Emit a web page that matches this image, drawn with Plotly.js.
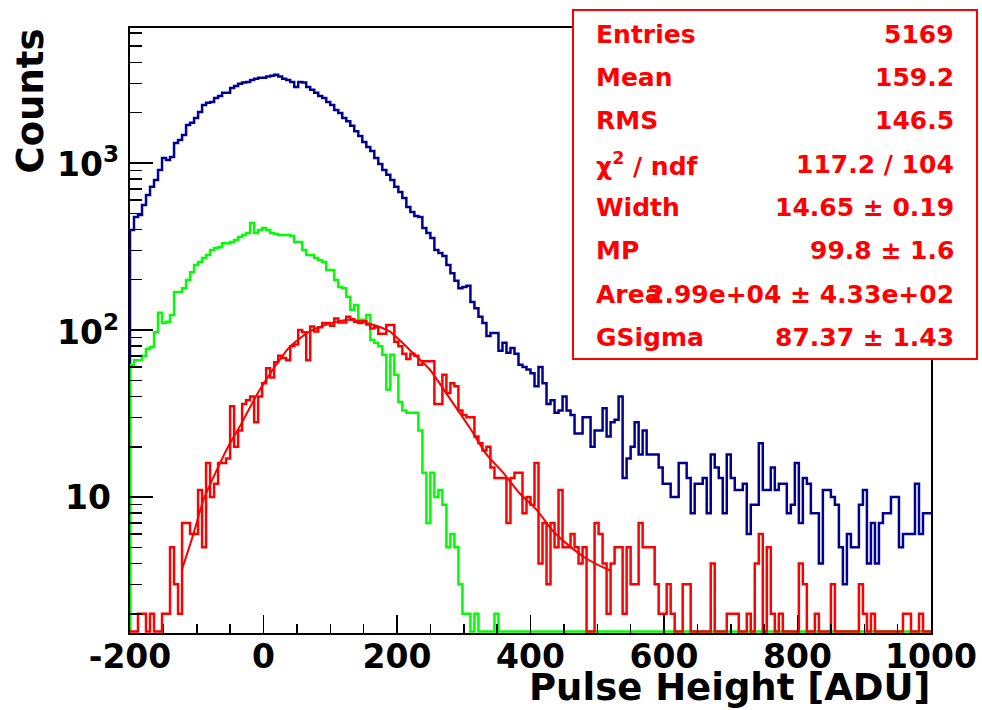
<!DOCTYPE html>
<html><head><meta charset="utf-8">
<script src="https://cdn.plot.ly/plotly-3.0.1.min.js"></script>
<style>html,body{margin:0;padding:0;background:#fff}#chart{width:982px;height:710px}</style>
</head><body><div id="chart"></div>
<script>
// Histogram binning: 200 bins of width 6 from -200 to 1000
const binStart = -200;
const binWidth = 6;

const blueCounts = [
 397,475,488,560,643,720,791,908,1070,1042,
 1086,1318,1374,1470,1690,1740,1860,2020,2220,2290,
 2320,2450,2520,2630,2630,2810,2890,2980,3030,3050,
 3140,3190,3240,3240,3290,3330,3370,3290,3190,3140,
 3050,2850,3050,3030,2850,2740,2630,2520,2450,2320,
 2220,2075,1990,1860,1780,1670,1550,1450,1335,1246,
 1180,1070,986,908,850,791,720,670,617,545,
 509,481,475,408,381,355,301,289,277,245,
 219,197,178,181,184,147,135,120,110,92,
 96,96,75,84,73,78,72,62,60,58,
 55,46,60,48,36,38,32,33,40,33,
 31,24,24,30,30,20,25,25,34,23,
 28,29,40,13,17,20,28,18,25,18,
 18,18,15,12,12,10,10,16,16,13,
 8,12,12,13,8,18,15,13,8,18,
 13,11,11,12,6,9,9,21,11,11,
 15,11,12,12,8,9,16,7,13,12,
 8,8,4,11,11,10,9,5,3,6,
 5,5,9,11,4,7,4,7,8,8,
 10,10,5,6,6,6,12,6,8,8
];

const greenCounts = [
 62,66,66,70,77,79,97,127,110,112,
 123,169,169,178,199,222,245,255,270,281,
 301,310,313,331,331,336,346,360,370,381,
 437,381,397,408,397,381,376,370,370,370,
 365,336,336,301,281,281,270,262,255,229,
 229,199,181,178,158,132,141,115,115,123,
 87,84,80,71,44,71,54,37,33,32,
 32,32,25,14,7,14,10,11,9,5,
 6,5,3,2,2,0,2,0,0,0,
 0,2,0,0,0,0,0,0,0,0,
 0,0,0,0,0,0,0,0,0,0,
 0,0,0,0,0,0,0,0,0,0,
 0,0,0,0,0,0,0,0,0,0,
 0,0,0,0,0,0,0,0,0,0,
 0,0,0,0,0,0,0,0,0,0,
 0,0,0,0,0,0,0,0,0,0,
 0,0,0,0,0,0,0,0,0,0,
 0,0,0,0,0,0,0,0,0,0,
 0,0,0,0,0,0,0,0,0,0,
 0,0,0,0,0,0,0,0,0,0
];

const redCounts = [
 0,0,2,2,0,2,0,0,2,2,
 5,3,2,7,7,6,6,11,5,16,
 10,12,16,16,17,35,20,25,36,38,
 40,28,40,48,59,52,64,70,68,66,
 80,82,100,97,66,105,98,104,110,110,
 106,117,111,111,120,116,112,110,113,108,
 102,104,95,95,107,107,85,80,72,67,
 72,70,62,65,65,65,36,36,54,42,
 48,46,33,31,30,30,23,21,19,20,
 15,13,13,13,7,13,14,14,8,10,
 9,16,4,7,3,7,5,11,5,5,
 6,5,4,5,0,0,7,6,4,2,
 4,5,5,2,5,3,3,7,5,5,
 5,3,2,2,3,2,0,0,3,3,
 0,0,0,0,0,4,0,0,0,2,
 2,2,0,0,2,0,4,6,0,5,
 2,0,2,0,0,0,0,4,3,0,
 0,2,0,0,0,3,0,0,0,0,
 0,0,3,2,0,2,0,0,0,0,
 0,0,0,2,2,0,0,2,0,0
];

// Fitted curve (Landau x Gauss)
const fitX = [-122,-105,-90,-70,-53,-33,-10,14,39,69,99,129,159,189,219,249,279,309,334,359,384,409,433,458,483,508,521];
const fitY = [3.7,6.0,9.6,14.5,20,27.6,41,58,79,98,109,115,109,98,76,58,39,26,18,14,10.5,8.4,6.3,5.1,4.3,3.8,3.6];

const xTickVals = [-200,0,200,400,600,800,1000];
const xTickText = ['-200','0','200','400','600','800','1000'];
const yTickVals = [10,100,1000];
const yTickText = ['10','10<sup>2</sup>','10<sup>3</sup>'];

const statLabels = ['Entries','Mean','RMS','χ<sup>2</sup> / ndf','Width','MP','Area','GSigma'];
const statValues = ['5169','159.2','146.5','117.2 / 104','14.65 ± 0.19','99.8 ± 1.6','2.99e+04 ± 4.33e+02','87.37 ± 1.43'];

const xTitle = 'Pulse Height [ADU]';
const yTitle = 'Counts';

// ---------------- drawing ----------------
const yRange = [0.186, 3.808];
const floorVal = Math.pow(10, yRange[0] + 0.009);

function histTrace(counts, color) {
  const x = [binStart], y = [floorVal];
  counts.forEach((c, i) => { x.push(binStart + i * binWidth); y.push(Math.max(c, floorVal)); });
  x.push(binStart + counts.length * binWidth);
  y.push(Math.max(counts[counts.length - 1], floorVal));
  return {type:'scatter', mode:'lines', x:x, y:y, line:{shape:'hv', color:color, width:2.5}, hoverinfo:'skip', showlegend:false};
}

const traces = [
  histTrace(blueCounts, 'rgb(0,0,150)'),
  histTrace(greenCounts, 'rgb(0,255,0)'),
  histTrace(redCounts, 'rgb(255,0,0)'),
  {type:'scatter', mode:'lines', x:fitX, y:fitY, line:{color:'rgb(255,0,0)', width:2, shape:'spline', smoothing:0.6}, hoverinfo:'skip', showlegend:false}
];

const L = 130, R = 931, T = 28, B = 633;
const px = v => (v - L) / (R - L);
const py = v => (B - v) / (B - T);

const tickFont = {family:'DejaVu Sans', size:33, color:'black', weight:'bold'};
const statFont = {family:'DejaVu Sans', size:25, color:'rgb(255,0,0)', weight:'bold'};

const annotations = [
  {text:yTitle, textangle:-90, xref:'paper', yref:'paper', x:px(30), y:py(27), xanchor:'center', yanchor:'top', showarrow:false,
   font:{family:'DejaVu Sans', size:37, color:'black', weight:'bold'}},
  {text:xTitle, xref:'paper', yref:'paper', x:px(933), y:py(687), xanchor:'right', yanchor:'middle', showarrow:false,
   font:{family:'DejaVu Sans', size:37, color:'black', weight:'bold'}}
];
// y tick labels centred as ROOT draws them
yTickVals.forEach((v, i) => {
  annotations.push({text:yTickText[i], xref:'paper', yref:'y', x:px(88), y:Math.log10(v), xanchor:'center', yanchor:'middle',
    showarrow:false, font:tickFont});
});
statLabels.forEach((lab, i) => {
  const rowY = 34 + i * 43.4;
  annotations.push({text:lab, xref:'paper', yref:'paper', x:px(594), y:py(rowY), xanchor:'left', yanchor:'middle', showarrow:false, font:statFont});
  annotations.push({text:statValues[i], xref:'paper', yref:'paper', x:px(956), y:py(rowY), xanchor:'right', yanchor:'middle', showarrow:false, font:statFont});
});

const layout = {
  width:982, height:710,
  margin:{l:L, r:982 - R, t:T, b:710 - B, pad:0},
  paper_bgcolor:'white', plot_bgcolor:'white',
  showlegend:false, hovermode:false,
  xaxis:{range:[-200,1000], tickmode:'array', tickvals:xTickVals, ticktext:xTickText,
    ticks:'inside', ticklen:18, tickwidth:1.5, tickcolor:'black',
    showline:true, linecolor:'black', linewidth:2, mirror:true,
    showgrid:false, zeroline:false, tickfont:tickFont, ticklabelstandoff:-7,
    minor:{tickmode:'linear', tick0:-200, dtick:50, ticks:'inside', ticklen:9, tickwidth:1.5, tickcolor:'black', showgrid:false}},
  yaxis:{type:'log', range:yRange, tickmode:'array', tickvals:yTickVals, showticklabels:false,
    ticks:'inside', ticklen:23, tickwidth:1.5, tickcolor:'black',
    showline:true, linecolor:'black', linewidth:2, mirror:true,
    showgrid:false, zeroline:false,
    minor:{dtick:'D1', ticks:'inside', ticklen:12, tickwidth:1.5, tickcolor:'black', showgrid:false}},
  shapes:[
    {type:'rect', xref:'paper', yref:'paper', x0:px(573), x1:px(977), y0:py(359), y1:py(10),
     line:{color:'rgb(255,0,0)', width:2}, fillcolor:'white', layer:'above'}
  ],
  annotations:annotations
};

Plotly.newPlot('chart', traces, layout, {displayModeBar:false, staticPlot:true});
</script>
</body></html>
